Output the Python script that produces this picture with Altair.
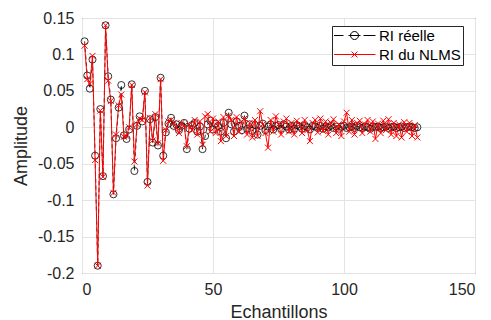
import altair as alt
import pandas as pd

# sample index
n = list(range(1, 129))

# true impulse response (black, circles)
ri_reelle = [
    0.118, 0.071, 0.053, 0.093, -0.039, -0.190, 0.025, -0.067, 0.140, 0.070,
    0.038, -0.092, -0.015, 0.027, 0.058, -0.011, -0.016, -0.003, 0.059, -0.060,
    0.002, 0.015, 0.008, 0.050, -0.075, 0.011, -0.021, 0.014, -0.025, 0.068,
    -0.039, -0.007, 0.005, 0.013, 0.002, 0.004, -0.004, 0.002, 0.006, -0.030,
    -0.002, 0.003, 0.006, -0.006, 0.001, -0.030, -0.012, 0.004, 0.009, -0.003,
    0.005, 0.002, -0.006, 0.006, -0.015, 0.020, 0.004, -0.006, 0.008, 0.002,
    -0.004, 0.016, -0.002, 0.004, -0.005, 0.003, -0.010, 0.002, 0.005, -0.004,
    0.001, 0.004, -0.003, 0.002, 0.003, -0.002, 0.004, 0.001, -0.003, 0.002,
    -0.002, 0.003, 0.001, -0.002, 0.002, 0.000, -0.003, 0.002, 0.001, -0.001,
    0.002, -0.002, 0.001, 0.000, 0.002, -0.001, 0.001, -0.002, 0.001, 0.002,
    -0.001, 0.000, 0.001, -0.001, 0.002, 0.000, -0.001, 0.001, 0.000, -0.002,
    0.001, 0.000, 0.001, -0.001, 0.000, 0.001, -0.001, 0.000, 0.001, -0.001,
    0.000, 0.001, -0.001, 0.000, 0.001, 0.000, -0.001, 0.000,
]

# NLMS estimate (red, x markers)
ri_nlms = [
    0.112, 0.066, 0.060, 0.098, -0.045, -0.190, 0.023, -0.068, 0.140, 0.064,
    0.036, -0.090, -0.010, 0.030, 0.045, -0.013, -0.012, 0.000, 0.058, -0.047,
    0.004, 0.012, 0.010, 0.048, -0.080, 0.013, -0.018, 0.018, -0.022, 0.066,
    -0.046, -0.004, 0.008, 0.010, 0.006, 0.000, -0.008, 0.006, 0.002, -0.026,
    0.004, -0.004, 0.010, -0.010, 0.008, -0.024, 0.015, 0.018, -0.006, 0.012,
    -0.008, 0.008, -0.019, 0.014, -0.012, 0.016, 0.010, -0.012, 0.014, -0.006,
    0.008, 0.012, -0.010, 0.006, -0.014, 0.010, -0.012, 0.022, 0.004, -0.008,
    -0.028, 0.010, -0.006, 0.015, 0.004, -0.010, 0.008, 0.012, -0.006, 0.006,
    -0.010, 0.009, 0.004, -0.008, 0.010, -0.004, -0.019, 0.006, 0.010, -0.007,
    0.012, -0.005, 0.008, -0.010, 0.006, 0.011, -0.008, 0.004, -0.012, 0.008,
    0.020, -0.006, 0.010, -0.010, 0.006, 0.009, -0.008, 0.004, 0.010, -0.006,
    0.008, -0.016, 0.005, -0.008, 0.009, -0.004, 0.011, -0.010, 0.006, -0.012,
    0.004, -0.014, 0.007, -0.006, 0.006, -0.012, 0.003, -0.014,
]

series_names = ["RI réelle", "RI du NLMS"]
series_colors = ["#000000", "#ff0000"]
x_ticks = [0, 50, 100, 150]
y_ticks = [-0.2, -0.15, -0.1, -0.05, 0, 0.05, 0.1, 0.15]

df = pd.DataFrame({
    "n": n + n,
    "v": ri_reelle + ri_nlms,
    "s": [series_names[0]] * len(n) + [series_names[1]] * len(n),
})

FONT = "Liberation Sans"
X_MARK = "M-1,-1L1,1M-1,1L1,-1"
LEG_BLACK = ("M-1.05,0L-0.55,0M-0.3,0L0.3,0M0.45,0L1.05,0"
             "M0.2,0A0.2,0.2 0 1,1 -0.2,0A0.2,0.2 0 1,1 0.2,0")
LEG_RED = "M-1.05,0L1.05,0M-0.15,-0.15L0.15,0.15M-0.15,0.15L0.15,-0.15"

base = alt.Chart(df).encode(
    x=alt.X("n:Q", scale=alt.Scale(domain=[0, 150], nice=False),
            axis=alt.Axis(values=x_ticks, title="Echantillons", labelPadding=8,
                          titlePadding=6)),
    y=alt.Y("v:Q", scale=alt.Scale(domain=[-0.2, 0.15], nice=False),
            axis=alt.Axis(values=y_ticks, title="Amplitude", labelPadding=8,
                          titlePadding=7,
                          labelExpr="toString(round(datum.value*100)/100)")),
)

black = base.transform_filter(alt.datum.s == series_names[0])
red = base.transform_filter(alt.datum.s == series_names[1])

black_line = black.mark_line(color="#000000", strokeWidth=0.8, strokeDash=[4, 3])
black_pts = black.mark_point(shape="circle", size=50, color="#000000", filled=False,
                             strokeWidth=0.8, opacity=1)
red_line = red.mark_line(color="#ff0000", strokeWidth=1)
red_pts = red.mark_point(shape=X_MARK, size=36, color="#ff0000", filled=False,
                         strokeWidth=1, opacity=1)

leg = alt.Legend(title=None, orient="none", legendX=250, legendY=8,
                 symbolSize=1600, symbolStrokeWidth=1, clipHeight=15, rowPadding=3,
                 labelOffset=4, padding=2, labelFontSize=15, labelFont=FONT,
                 labelColor="#000000", strokeColor="#262626", fillColor="#ffffff")

legend_layer = base.transform_filter("false").mark_point(filled=False, opacity=1).encode(
    stroke=alt.Stroke("s:N", scale=alt.Scale(domain=series_names, range=series_colors),
                      legend=leg),
    shape=alt.Shape("s:N", scale=alt.Scale(domain=series_names, range=[LEG_BLACK, LEG_RED]),
                    legend=leg),
)

chart = alt.layer(black_line, black_pts, red_line, red_pts, legend_layer).properties(
    width=393, height=255,
    padding={"left": 82, "top": 18, "right": 16, "bottom": 47},
    autosize="none",
    background="#ffffff",
).configure_view(
    stroke="#444444", strokeWidth=1
).configure_axis(
    grid=True, gridColor="#e3e3e3", gridWidth=1, domain=False, ticks=False,
    labelFont=FONT, labelFontSize=16, labelColor="#262626",
    titleFont=FONT, titleFontSize=18, titleFontWeight="normal", titleColor="#262626",
)

chart.save("out.html", embed_options={"renderer": "svg", "actions": False})
